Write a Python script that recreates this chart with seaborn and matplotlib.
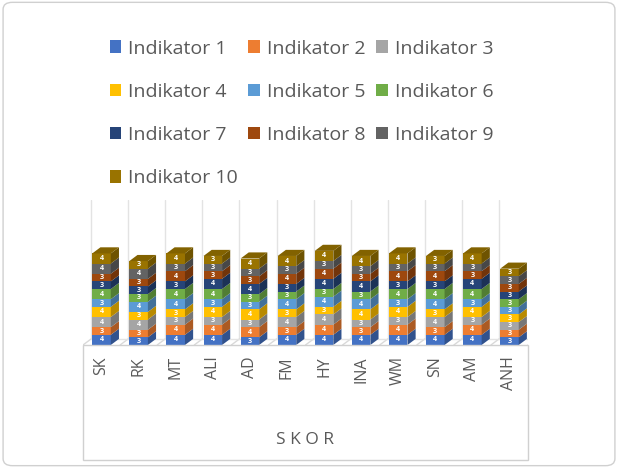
import numpy as np
import pandas as pd
import matplotlib
matplotlib.use("Agg")
import matplotlib.pyplot as plt
import seaborn as sns
from matplotlib.patches import Polygon, Rectangle, FancyBboxPatch

# data: one list per student, indicators 1..10 from bottom to top
students = ["SK", "RK", "MT", "ALI", "AD", "FM", "HY", "INA", "WM", "SN", "AM", "ANH"]
indicators = ["Indikator %d" % i for i in range(1, 11)]
scores = {
    "SK":  [4, 3, 4, 4, 3, 4, 3, 3, 4, 4],
    "RK":  [3, 3, 4, 3, 4, 3, 3, 3, 4, 3],
    "MT":  [4, 4, 3, 3, 4, 4, 3, 4, 3, 4],
    "ALI": [4, 4, 3, 4, 3, 4, 4, 3, 3, 3],
    "AD":  [3, 4, 3, 4, 3, 3, 4, 3, 3, 4],
    "FM":  [4, 3, 4, 3, 4, 3, 3, 4, 3, 4],
    "HY":  [4, 4, 4, 3, 4, 3, 4, 4, 3, 4],
    "INA": [4, 3, 3, 4, 4, 3, 4, 3, 3, 4],
    "WM":  [4, 4, 3, 4, 3, 4, 3, 4, 3, 4],
    "SN":  [4, 3, 4, 3, 4, 4, 3, 4, 3, 3],
    "AM":  [4, 4, 3, 4, 3, 4, 4, 3, 3, 4],
    "ANH": [3, 3, 3, 3, 3, 3, 3, 3, 3, 3],
}
colors = ["#4472C4", "#ED7D31", "#A5A5A5", "#FFC000", "#5B9BD5",
          "#70AD47", "#264478", "#9E480E", "#636363", "#997300"]

sns.set_theme(style="white")
plt.rcParams['font.family'] = ['Open Sans', 'DejaVu Sans']

df = pd.DataFrame(scores, index=indicators).T  # rows = students
cum = df.cumsum(axis=1)

fig = plt.figure(figsize=(6.18, 4.68), dpi=100)
ax = fig.add_axes([83 / 618, 1 - 345 / 468, 445 / 618, 145 / 468])

ymax = 57
w = 0.5
dx, dy = 0.22, 2.4  # fake depth, in data units

# back wall / floor lines
for i in range(len(students) + 1):
    xb = i - 0.5 + dx
    ax.plot([xb, xb], [dy, ymax], color="#e3e3e3", lw=1, zorder=0)
    ax.plot([i - 0.5, xb], [0, dy], color="#d9d9d9", lw=1, zorder=0)
ax.plot([-0.5 + dx, len(students) - 0.5 + dx], [dy, dy], color="#e3e3e3", lw=1, zorder=0)

# stacked bars: draw cumulative totals from the top layer down
for k in range(len(indicators) - 1, -1, -1):
    sns.barplot(x=students, y=cum.iloc[:, k].values, color=colors[k],
                width=w, saturation=1, ax=ax, zorder=2, edgecolor="none")

def shade(c, f=0.72):
    r, g, b = matplotlib.colors.to_rgb(c)
    return (r * f, g * f, b * f)

for i, s in enumerate(students):
    bottom = 0
    for k, v in enumerate(df.loc[s]):
        x1 = i + w / 2
        side = Polygon([(x1, bottom), (x1 + dx, bottom + dy),
                        (x1 + dx, bottom + v + dy), (x1, bottom + v)],
                       closed=True, fc=shade(colors[k]), ec="none", zorder=3)
        ax.add_patch(side)
        ax.text(i, bottom + v / 2, str(v), color="white", fontsize=5.2,
                fontweight="bold", ha="center", va="center", zorder=4)
        bottom += v
    top = Polygon([(i - w / 2, bottom), (i - w / 2 + dx, bottom + dy),
                   (i + w / 2 + dx, bottom + dy), (i + w / 2, bottom)],
                  closed=True, fc=shade(colors[-1], 0.85), ec="none", zorder=3)
    ax.add_patch(top)

ax.set_xlim(-0.5, len(students) - 0.5)
ax.set_ylim(0, ymax)
ax.set_yticks([])
for sp in ax.spines.values():
    sp.set_visible(False)
ax.set_xticks(range(len(students)))
ax.set_xticklabels(students, rotation=90, fontsize=11.5, color="#595959")
ax.tick_params(axis="x", length=0, pad=8)
ax.set_xlabel("S K O R", fontsize=12.5, color="#595959", labelpad=30)

# category box and outer chart border
fig.add_artist(Rectangle((83 / 618, 1 - 460 / 468), 445 / 618, 115 / 468,
                         transform=fig.transFigure, fill=False, ec="#d0d0d0", lw=1))
fig.add_artist(FancyBboxPatch((0.005, 0.005), 0.99, 0.99, boxstyle="round,pad=0,rounding_size=0.015",
                              transform=fig.transFigure, fill=False, ec="#d0d0d0", lw=1))

# legend filled row by row like the reference
order = [0, 3, 6, 9, 1, 4, 7, 2, 5, 8]
handles = [Rectangle((0, 0), 1, 1, fc=colors[j], ec="none") for j in order]
labels = [indicators[j] for j in order]
fig.legend(handles, labels, loc="upper left", bbox_to_anchor=(92 / 618, 1 - 22 / 468),
           ncol=3, frameon=False, fontsize=14, labelcolor="#595959",
           handlelength=0.6, handleheight=0.6, handletextpad=0.35,
           columnspacing=0.55, labelspacing=1.3)

fig.savefig("out.png", dpi=100)
